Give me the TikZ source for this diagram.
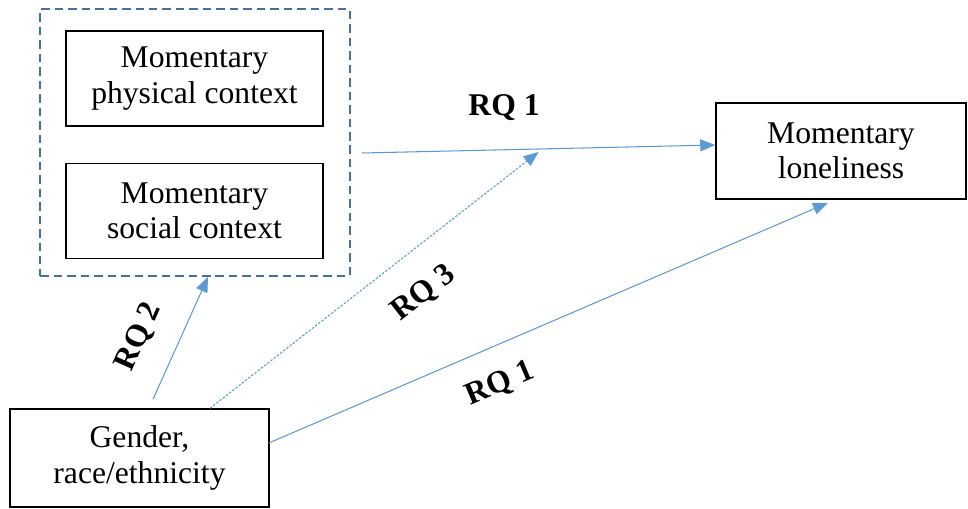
\documentclass[tikz,border=0pt]{standalone}
\usepackage{fontspec}
\setmainfont{Liberation Serif}
\usetikzlibrary{arrows.meta,calc,positioning}
\definecolor{arrowblue}{HTML}{5B9BD5}
\definecolor{frameblue}{HTML}{41719C}

\begin{document}
\begin{tikzpicture}[x=0.02cm, y=-0.02cm]
    % Style for nodes and arrows
    \tikzset{
        varbox/.style={draw=black, line width=0.9pt, align=center, inner sep=0pt, font=\fontsize{18}{20}\selectfont},
        rqlabel/.style={font=\fontsize{18}{20}\selectfont\bfseries, inner sep=0pt},
        rqarrow/.style={arrowblue, line width=0.6pt, -{Triangle[length=0.3cm, width=0.24cm]}}
    }
    \useasboundingbox (0,0) rectangle (968,508);

    % --- DRAW NODES ---
    \node[draw=frameblue, line width=1.1pt, dash pattern=on 0.17cm off 0.1cm,
          minimum width=6.2cm, minimum height=5.34cm] (ctx) at (195,142.5) {};
    \node[varbox, minimum width=5.14cm, minimum height=1.9cm] (phys) at (194.5,78.5) {Momentary\\physical context};
    \node[varbox, minimum width=5.14cm, minimum height=1.9cm] (social) at (194.5,211) {Momentary\\social context};
    \node[varbox, minimum width=5.0cm, minimum height=1.92cm] (lonely) at (841,151) {Momentary\\loneliness};
    \node[varbox, minimum width=5.18cm, minimum height=1.96cm] (gender) at (139.5,458) {Gender,\\race/ethnicity};

    % --- END POINTS ---
    \coordinate (s1) at ($(ctx.east)+(11,10.5)$);
    \coordinate (e1) at ($(lonely.west)+(0,-6)$);
    \coordinate (e3) at ($(s1)!0.5!(e1)+(0,3)$);

    % --- ARROWS ---
    \draw[rqarrow] (s1) -- (e1);
    \draw[rqarrow] ($(gender.north)+(13.5,-9)$) -- ($(ctx.south)+(13,0)$);
    \draw[rqarrow, dash pattern=on 1.4pt off 0.9pt] ($(gender.north)+(70.5,0)$) -- (e3);
    \draw[rqarrow] ($(gender.east)+(-1,-15)$) -- ($(lonely.south)+(-13,3)$);

    % --- LABELS ---
    \node[rqlabel] (rq1a) at (504,108) {RQ 1};
    \node[rqlabel, rotate=66] (rq2) at (139,337) {RQ 2};
    \node[rqlabel, rotate=38] (rq3) at (424,293) {RQ 3};
    \node[rqlabel, rotate=23] (rq1b) at (500,384) {RQ 1};
\end{tikzpicture}
\end{document}
